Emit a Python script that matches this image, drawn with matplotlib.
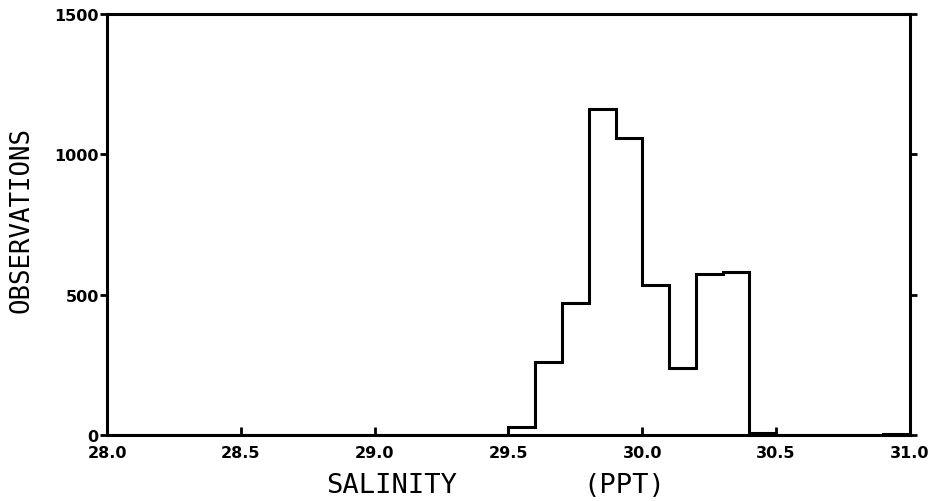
import matplotlib
matplotlib.use("Agg")
import matplotlib.pyplot as plt

# Bin edges (salinity, ppt) and observation counts per bin
bin_edges = [28.0, 28.1, 28.2, 28.3, 28.4, 28.5, 28.6, 28.7, 28.8, 28.9,
             29.0, 29.1, 29.2, 29.3, 29.4, 29.5, 29.6, 29.7, 29.8, 29.9,
             30.0, 30.1, 30.2, 30.3, 30.4, 30.5, 30.6, 30.7, 30.8, 30.9, 31.0]
counts = [0, 0, 0, 0, 0, 0, 0, 0, 0, 0,
          0, 0, 0, 0, 0, 30, 260, 470, 1160, 1060,
          535, 240, 575, 580, 8, 0, 0, 0, 0, 3]

x_ticks = [28.0, 28.5, 29.0, 29.5, 30.0, 30.5, 31.0]
x_tick_labels = ["28.0", "28.5", "29.0", "29.5", "30.0", "30.5", "31.0"]
y_ticks = [0, 500, 1000, 1500]
y_tick_labels = ["0", "500", "1000", "1500"]

fig = plt.figure(figsize=(9.39, 5.02), dpi=100)
ax = fig.add_axes([0.114, 0.1315, 0.855, 0.8385])

ax.stairs(counts, bin_edges, color="black", linewidth=2.2)

ax.set_xlim(28.0, 31.0)
ax.set_ylim(0, 1500)

ax.set_xticks(x_ticks)
ax.set_xticklabels(x_tick_labels, fontweight="bold", fontsize=11.5, family="DejaVu Sans")
ax.set_yticks(y_ticks)
ax.set_yticklabels(y_tick_labels, fontweight="bold", fontsize=11.5, family="DejaVu Sans")

ax.tick_params(axis="x", direction="in", length=6, width=2, pad=7)
ax.tick_params(axis="y", direction="out", length=5, width=2, pad=1, right=True)

for s in ax.spines.values():
    s.set_linewidth(2.2)

fig.text(0.417, 0.018, "SALINITY", ha="center", va="baseline",
         fontsize=19.5, family="DejaVu Sans Mono")
fig.text(0.665, 0.018, "(PPT)", ha="center", va="baseline",
         fontsize=19.5, family="DejaVu Sans Mono")
fig.text(0.023, 0.562, "OBSERVATIONS", ha="center", va="center", rotation=90,
         fontsize=18.5, family="DejaVu Sans Mono")

fig.savefig("out.png", dpi=100)
